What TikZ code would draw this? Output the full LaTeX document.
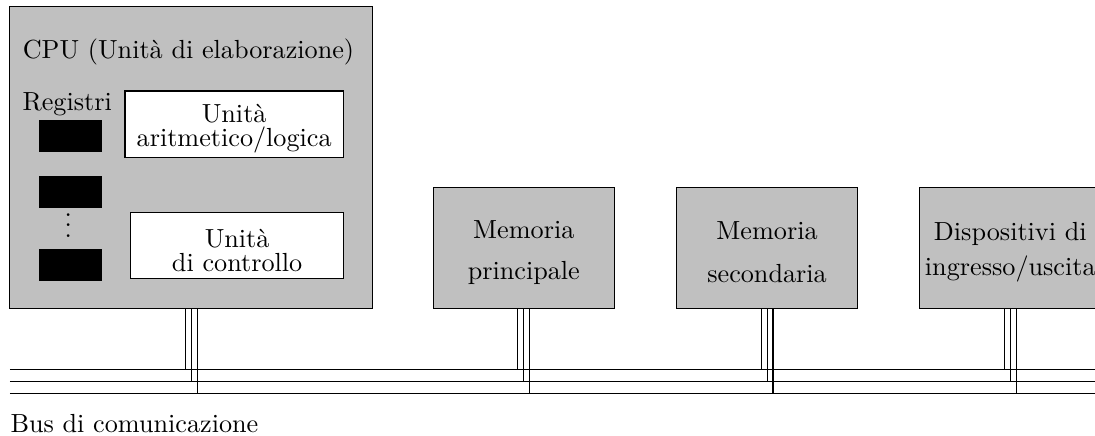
\documentclass[tikz,border=0pt]{standalone}
\usetikzlibrary{positioning,calc}
\definecolor{unitfill}{HTML}{C0C0C0}
\definecolor{unitborder}{HTML}{000000}
\definecolor{subfill}{HTML}{FFFFFF}
\newcommand{\unitstrut}{\rule{0pt}{10.5pt}}

\begin{document}
\begin{tikzpicture}[
  unit/.style={
    draw=unitborder,
    fill=unitfill,
    align=center,
    inner sep=1pt,
    minimum width=2.436cm,
    minimum height=1.624cm
  },
  subunit/.style={
    draw=unitborder,
    fill=subfill,
    align=center,
    inner sep=1pt,
    minimum height=0.895cm
  },
  reg/.style={
    draw=unitborder,
    fill=unitborder,
    inner sep=0pt,
    minimum width=0.819cm,
    minimum height=0.416cm
  },
  bus/.style={
    draw=unitborder,
    line width=0.4pt
  },
  wire/.style={
    draw=unitborder,
    line width=0.4pt
  }
]

\useasboundingbox (0,0) rectangle (14.698,-5.852);

% --- CPU ---
\node[unit, minimum width=4.869cm, minimum height=4.048cm] (cpu) at (2.568,-2.114) {};
\node[anchor=base] (cputitle) at (2.530,-0.783) {CPU (Unità di elaborazione)};

\node[anchor=base] (regtitle) at (0.902,-1.477) {Registri};
\node[reg] (reg1) at (0.946,-1.832) {};
\node[reg, below=0.32cm of reg1] (reg2) {};
\node[reg, below=0.55cm of reg2] (reg3) {};
\node[anchor=base] (regdots) at (0.917,-3.187) {$\vdots$};

\node[subunit, minimum width=2.930cm] (alu) at (3.143,-1.669) {\unitstrut Unità\\[-2.7pt]aritmetico/logica};
\node[subunit, minimum width=2.850cm] (cu) at (3.183,-3.297) {\unitstrut Unità\\[-2.7pt]di controllo};

% --- Memorie e periferiche ---
\node[unit] (mem) at (7.031,-3.326) {\unitstrut Memoria\\[4pt]principale};
\node[unit, right=0.815cm of mem] (sec) {\unitstrut Memoria\\[4.5pt]secondaria};
\node[unit, right=0.815cm of sec] (io) {\unitstrut Dispositivi di\\[1.5pt]ingresso/uscita};

% --- Bus ---
\coordinate (busA) at (0.134,-4.957);
\coordinate (busB) at (0.134,-5.118);
\coordinate (busC) at (0.134,-5.284);
\coordinate (busend) at (14.698,0);

\foreach \b in {busA,busB,busC}
  \draw[bus] (\b) -- (\b -| busend);

% collegamenti al bus
\foreach \n in {cpu,mem,sec,io}
  \foreach \d/\b in {-0.08/busA,0/busB,0.08/busC}
    \draw[wire] ([xshift=\d cm]\n.south) -- ([xshift=\d cm]\n.south |- \b);

\node[below right=0.27cm and 0cm of busC, inner sep=0pt] (buslabel) {Bus di comunicazione};

\end{tikzpicture}
\end{document}
